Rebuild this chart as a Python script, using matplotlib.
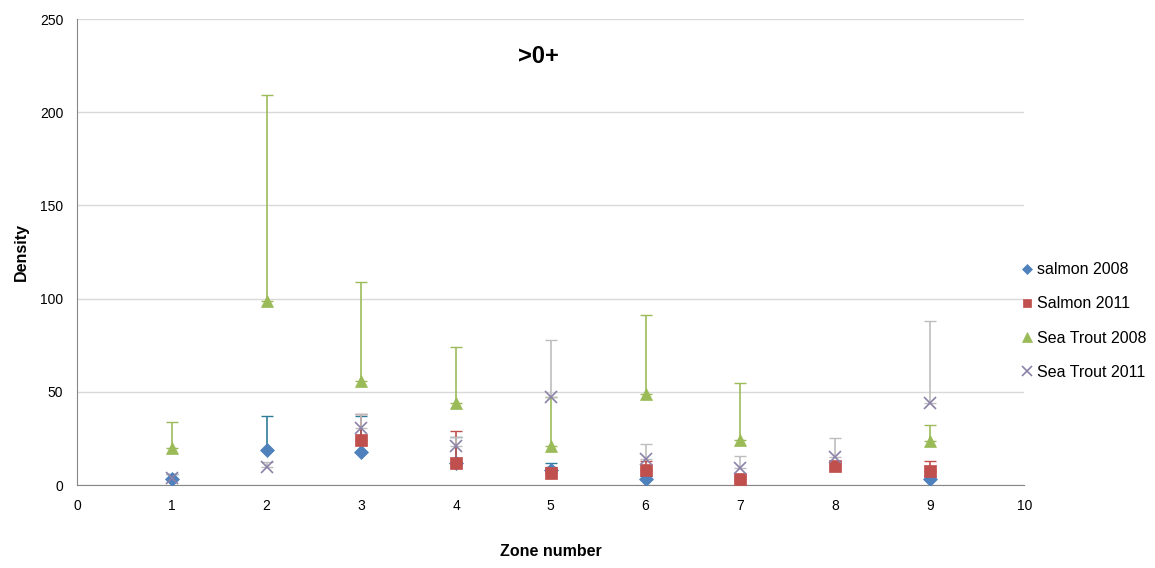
import matplotlib.pyplot as plt
import numpy as np

nan = np.nan

zones = [1, 2, 3, 4, 5, 6, 7, 8, 9]

# mean density per zone (NaN where no point is shown)
salmon_2008 = [3, 19, 18, 12, 8, 3, nan, nan, 3]
salmon_2011 = [nan, nan, 24, 12, 6.5, 8, 3, 10, 7.5]
trout_2008 = [20, 99, 56, 44, 21, 49, 24, nan, 23.5]
trout_2011 = [4, 9.5, 30.5, 21, 47, 14, 9, 15, 44]

# upper error (only the plus side is drawn)
salmon_2008_err = [3, 18, 19, 14, 4, 2, nan, nan, 2]
salmon_2011_err = [nan, nan, 14, 17, 3, 5, 2, 2, 5.5]
trout_2008_err = [14, 110, 53, 30, 26, 42, 31, nan, 8.5]
trout_2011_err = [2, 3, 7.5, 5, 31, 8, 6.5, 10, 44]

series = [
    ("salmon 2008", salmon_2008, salmon_2008_err, "D", "#4F81BD", "#2E7D9A", 7),
    ("Salmon 2011", salmon_2011, salmon_2011_err, "s", "#C0504D", "#C0504D", 8),
    ("Sea Trout 2008", trout_2008, trout_2008_err, "^", "#9BBB59", "#9BBB59", 9),
    ("Sea Trout 2011", trout_2011, trout_2011_err, "x", "#8C82A8", "#BDBDBD", 9),
]

plt.rcParams['font.family'] = ['Liberation Sans', 'DejaVu Sans']

fig = plt.figure(figsize=(11.55, 5.68), dpi=100)
ax = fig.add_axes([0.0667, 0.146, 0.8203, 0.8205])

for label, vals, err, marker, color, ecolor, size in series:
    vals = np.array(vals, dtype=float)
    err = np.array(err, dtype=float)
    ax.errorbar(zones, vals, yerr=[np.zeros_like(err), err], fmt="none",
                ecolor=ecolor, elinewidth=1.2, capsize=4, capthick=1, zorder=2)
    ax.plot(zones, vals, linestyle="none", marker=marker, color=color,
            markersize=size, markeredgewidth=1.2 if marker == "x" else 0.5,
            label=label, zorder=3)

ax.set_xlim(0, 10)
ax.set_ylim(0, 250)
ax.set_xticks(range(0, 11))
ax.set_yticks(range(0, 251, 50))
ax.tick_params(length=0, labelsize=10, pad=10)
ax.yaxis.grid(True, color="#D9D9D9", linewidth=1)
ax.set_axisbelow(True)
for s in ["top", "right"]:
    ax.spines[s].set_visible(False)
for s in ["left", "bottom"]:
    ax.spines[s].set_color("#868686")

ax.set_xlabel("Zone number", fontsize=11.5, fontweight="bold", labelpad=22)
ax.set_ylabel("Density", fontsize=11.5, fontweight="bold", labelpad=8)
ax.text(4.87, 230, ">0+", fontsize=17, fontweight="bold", ha="center", va="center")

ax.legend(loc="center left", bbox_to_anchor=(0.985, 0.352), frameon=False,
          fontsize=11.5, handletextpad=0.0, labelspacing=1.2, handlelength=1.3,
          markerscale=0.75, borderaxespad=0)

fig.savefig("out.png", dpi=100)
